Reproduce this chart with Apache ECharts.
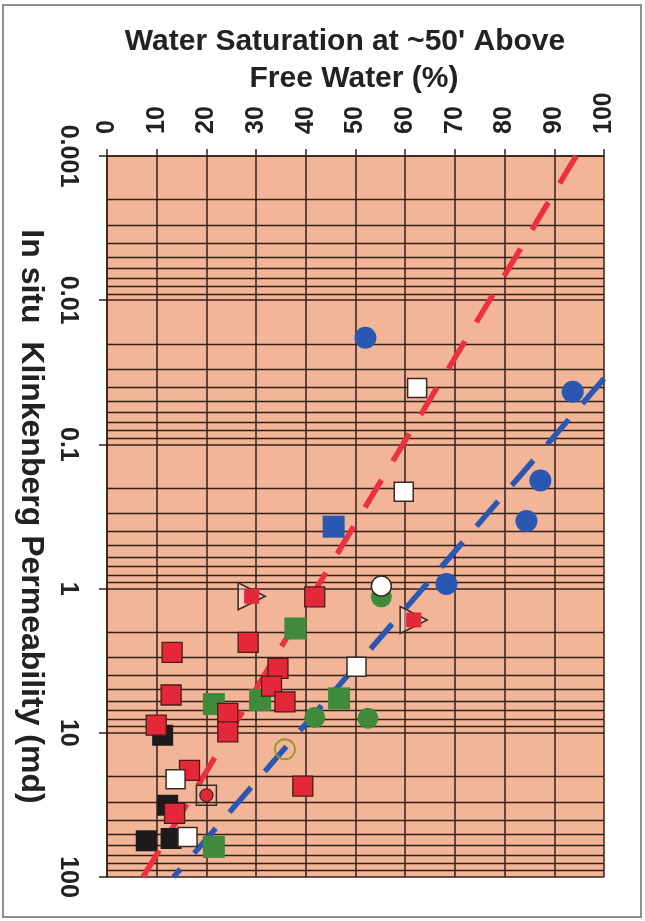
<!DOCTYPE html>
<html>
<head>
<meta charset="utf-8">
<script src="https://cdn.jsdelivr.net/npm/echarts@6/dist/echarts.min.js"></script>
<style>
  html, body { margin: 0; padding: 0; background: #ffffff; }
  #chart { width: 645px; height: 921px; }
</style>
</head>
<body>
<div id="chart"></div>
<script>
// ---- Text ----
const titleLines = ["Water Saturation at ~50' Above", 'Free Water (%)'];
const permAxisName = 'In situ  Klinkenberg Permeability (md)';
const permTickLabels = ['0.001', '0.01', '0.1', '1', '10', '100'];
const saturationTicks = [0, 10, 20, 30, 40, 50, 60, 70, 80, 90, 100];

// ---- Samples: [water saturation %, permeability md] ----
const redSquares = [
  [13.1, 2.77], [12.9, 5.47], [9.9, 8.85], [24.3, 7.33], [24.3, 9.84],
  [28.4, 2.36], [34.4, 3.57], [33.1, 4.74], [35.8, 6.10], [41.8, 1.14],
  [16.6, 18.2], [13.6, 36.2], [39.4, 23.4]
];
const blackSquares = [[11.2, 10.4], [12.2, 31.8], [7.9, 56.1], [12.9, 54.1]];
const whiteSquares = [[62.4, 0.0407], [59.7, 0.213], [50.2, 3.48], [13.8, 21.0], [16.2, 52.7]];
const greenSquares = [[37.9, 1.89], [21.5, 6.32], [30.8, 5.93], [46.7, 5.77], [21.5, 61.8]];
const greenCircles = [[41.8, 7.82], [52.5, 7.94], [55.2, 1.14]];
const whiteCircles = [[55.2, 0.96]];
const blueCircles = [[52.0, 0.0182], [93.7, 0.0431], [87.2, 0.178], [84.4, 0.340], [68.3, 0.929]];
const blueSquares = [[45.6, 0.372]];
const triangleSamples = [[29.1, 1.13], [61.7, 1.65]];
const circledSquareSamples = [[20.0, 27.1]];
const openCircles = [[35.8, 13.0]];

// ---- Trend lines: [saturation %, permeability md] end points ----
const redTrend = [[94.4, 0.001], [7.25, 100]];
const blueTrend = [[100, 0.035], [13.4, 100]];

// ---- Styling ----
const FONT = '"Liberation Sans", Arial, Helvetica, sans-serif';
const INK = '#33201a';
const TEXT = '#222222';
const RED = '#E4283A';
const RED_LINE = '#EC3040';
const BLUE = '#2A57B2';
const GREEN = '#3F8B3B';
const PLOT_BG = '#F3B597';

// horizontal grid lines at 2..9 of every decade on the log axis
const minorGridValues = [];
for (let e = -3; e <= 1; e++) {
  for (let m = 2; m <= 9; m++) minorGridValues.push(+(m * Math.pow(10, e)).toPrecision(3));
}

function scatter(data, opts) {
  return Object.assign({
    type: 'scatter',
    data: data,
    silent: true,
    animation: false
  }, opts);
}

const chart = echarts.init(document.getElementById('chart'), null, { renderer: 'canvas' });

const option = {
  animation: false,
  backgroundColor: '#ffffff',
  textStyle: { fontFamily: FONT },
  title: [
    {
      text: titleLines[0], left: 345, top: 27, padding: 0, textAlign: 'center',
      textStyle: { fontFamily: FONT, fontSize: 30, fontWeight: 'bold', color: TEXT }
    },
    {
      text: titleLines[1], left: 354, top: 64, padding: 0, textAlign: 'center',
      textStyle: { fontFamily: FONT, fontSize: 30, fontWeight: 'bold', color: TEXT }
    }
  ],
  graphic: [
    {
      type: 'rect', silent: true, z: -10,
      shape: { x: 3, y: 5, width: 638, height: 912 },
      style: { fill: 'none', stroke: '#8f8f8f', lineWidth: 2 }
    }
  ],
  grid: {
    left: 107, top: 156, width: 497, height: 721,
    show: true, backgroundColor: PLOT_BG, borderWidth: 0
  },
  xAxis: {
    type: 'value', position: 'top',
    min: saturationTicks[0], max: saturationTicks[saturationTicks.length - 1], interval: 10,
    axisLine: { show: true, onZero: false, lineStyle: { color: INK, width: 1.5 } },
    axisTick: { show: true, length: 7, lineStyle: { color: INK, width: 1.5 } },
    axisLabel: {
      rotate: -90, margin: 22, fontSize: 25, fontWeight: 'bold', color: TEXT, fontFamily: FONT
    },
    splitLine: { show: true, lineStyle: { color: INK, width: 1.5 } }
  },
  yAxis: {
    type: 'log', logBase: 10, min: 0.001, max: 100, inverse: true, position: 'left',
    name: permAxisName, nameLocation: 'middle', nameRotate: -90, nameGap: 57,
    nameTextStyle: { fontSize: 32, fontWeight: 'bold', color: TEXT, fontFamily: FONT },
    axisLine: { show: true, onZero: false, lineStyle: { color: INK, width: 1.5 } },
    axisTick: { show: true, length: 8, lineStyle: { color: INK, width: 1.5 } },
    axisLabel: {
      rotate: -90, margin: 27, fontSize: 25, fontWeight: 'bold', color: TEXT, fontFamily: FONT,
      formatter: function (v) {
        const i = Math.round(Math.log10(v)) + 3;
        return permTickLabels[i] !== undefined ? permTickLabels[i] : '';
      }
    },
    splitLine: { show: true, lineStyle: { color: INK, width: 1.5 } }
  },
  series: [
    // minor log grid lines, placed through the y scale
    {
      type: 'custom', silent: true, z: 1, clip: true,
      data: minorGridValues.map(v => [0, v]),
      encode: { x: 0, y: 1 },
      renderItem: function (params, api) {
        const cs = params.coordSys;
        const y = Math.round(api.coord([0, api.value(1)])[1]) + 0.5;
        return {
          type: 'line',
          shape: { x1: cs.x, y1: y, x2: cs.x + cs.width, y2: y },
          style: { stroke: INK, lineWidth: 1.5 }
        };
      }
    },
    // trend lines
    {
      type: 'line', data: redTrend, showSymbol: false, silent: true, z: 2,
      lineStyle: { color: RED_LINE, width: 5.5, type: [32, 22], cap: 'butt' }
    },
    {
      type: 'line', data: blueTrend, showSymbol: false, silent: true, z: 2,
      lineStyle: { color: BLUE, width: 5.5, type: [33, 21], cap: 'butt' }
    },
    // samples
    scatter(greenSquares, { z: 3, symbol: 'rect', symbolSize: 22, itemStyle: { color: GREEN, opacity: 1 } }),
    scatter(greenCircles, { z: 4, symbol: 'circle', symbolSize: 21, itemStyle: { color: GREEN, opacity: 1 } }),
    scatter(blackSquares, { z: 5, symbol: 'rect', symbolSize: 21, itemStyle: { color: '#1c1a1a', opacity: 1 } }),
    scatter(redSquares, {
      z: 6, symbol: 'rect', symbolSize: 20,
      itemStyle: { color: RED, borderColor: '#4a1c14', borderWidth: 1.3, opacity: 1 }
    }),
    scatter(blueSquares, { z: 6, symbol: 'rect', symbolSize: 22, itemStyle: { color: BLUE, opacity: 1 } }),
    scatter(blueCircles, { z: 6, symbol: 'circle', symbolSize: 22, itemStyle: { color: BLUE, opacity: 1 } }),
    scatter(whiteSquares, {
      z: 7, symbol: 'rect', symbolSize: 19,
      itemStyle: { color: '#ffffff', borderColor: '#3a2a24', borderWidth: 1.5, opacity: 1 }
    }),
    scatter(whiteCircles, {
      z: 7, symbol: 'circle', symbolSize: 20,
      itemStyle: { color: '#ffffff', borderColor: '#3a2a24', borderWidth: 1.5, opacity: 1 }
    }),
    scatter(openCircles, {
      z: 7, symbol: 'circle', symbolSize: 20,
      itemStyle: { color: 'rgba(0,0,0,0)', borderColor: '#8f9a2a', borderWidth: 1.8, opacity: 1 }
    }),
    scatter(triangleSamples, {
      z: 8, symbol: 'triangle', symbolSize: [27, 27], symbolRotate: -90,
      itemStyle: { color: 'rgba(255,255,255,0.35)', borderColor: '#3a2a24', borderWidth: 1.5, opacity: 1 }
    }),
    scatter(triangleSamples, {
      z: 9, symbol: 'rect', symbolSize: 15,
      itemStyle: { color: RED, opacity: 1 }
    }),
    scatter(circledSquareSamples, {
      z: 8, symbol: 'rect', symbolSize: 20,
      itemStyle: { color: 'rgba(0,0,0,0)', borderColor: '#3a2a24', borderWidth: 1.5, opacity: 1 }
    }),
    scatter(circledSquareSamples, {
      z: 9, symbol: 'circle', symbolSize: 13,
      itemStyle: { color: RED, borderColor: '#4a1c14', borderWidth: 1.2, opacity: 1 }
    })
  ]
};

chart.setOption(option);
</script>
</body>
</html>
